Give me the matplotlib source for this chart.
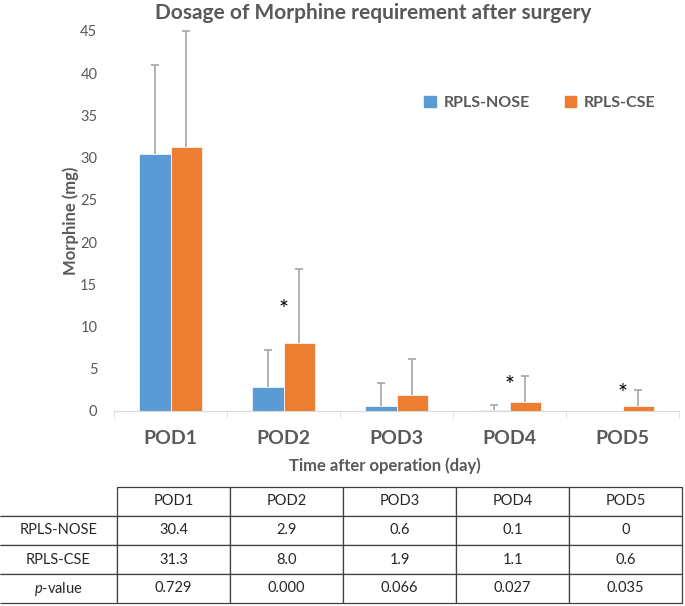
import matplotlib
matplotlib.use("Agg")
import matplotlib.pyplot as plt
from matplotlib.patches import Patch
import numpy as np

plt.rcParams['font.family'] = ['Lato', 'DejaVu Sans']
plt.rcParams['mathtext.fontset'] = 'custom'
plt.rcParams['mathtext.it'] = 'Lato:italic'
plt.rcParams['mathtext.rm'] = 'Lato'

# data
days = ['POD1', 'POD2', 'POD3', 'POD4', 'POD5']
nose_mean = [30.4, 2.9, 0.6, 0.1, 0]
cse_mean = [31.3, 8.0, 1.9, 1.1, 0.6]
nose_sd = [10.6, 4.3, 2.7, 0.6, 0]
cse_sd = [13.7, 8.8, 4.2, 3.1, 1.9]
p_values = ['0.729', '0.000', '0.066', '0.027', '0.035']
star_idx = [1, 3, 4]
star_y = [12.8, 3.9, 2.85]

blue = '#5B9BD5'
orange = '#ED7D31'
grey_txt = '#595959'

fig = plt.figure(figsize=(6.85, 6.06), dpi=100)
ax = fig.add_axes([114/685, 1-411/606, 565/685, 380/606])

x = np.arange(len(days))
w = 0.275


def upper_err(xpos, mean, sd):
    # only the upper whisker, skip zero sd
    xpos, mean, sd = np.asarray(xpos), np.asarray(mean), np.asarray(sd)
    keep = sd > 0
    _, caps, _ = ax.errorbar(xpos[keep], mean[keep], yerr=[np.zeros(keep.sum()), sd[keep]],
                             fmt='none', ecolor='#A6A6A6', elinewidth=1.2, capsize=3,
                             capthick=1.2, clip_on=False)
    caps[0].set_visible(False)


ax.bar(x - w/2, nose_mean, w, color=blue, edgecolor='white', linewidth=0.5)
ax.bar(x + w/2, cse_mean, w, color=orange, edgecolor='white', linewidth=0.5)
upper_err(x - w/2, nose_mean, nose_sd)
upper_err(x + w/2, cse_mean, cse_sd)

for i, yv in zip(star_idx, star_y):
    # glyph sits high in its box, nudge it down
    ax.annotate('*', (i, yv), xytext=(0, -5), textcoords='offset points',
                ha='center', va='center', fontsize=17, color='black')

ax.set_xlim(-0.5, 4.5)
ax.set_ylim(0, 45)
ax.set_yticks(range(0, 46, 5))
ax.set_xticks(x)
ax.set_xticklabels(days, fontsize=14, fontweight='bold', color=grey_txt)
ax.set_xticks(np.arange(-0.5, 5, 1), minor=True)
ax.tick_params(axis='x', which='major', length=0, pad=14)
ax.tick_params(axis='x', which='minor', length=5, color='#D9D9D9')
ax.tick_params(axis='y', length=0, labelsize=10.5, labelcolor=grey_txt, pad=12)
for s in ['top', 'right', 'left']:
    ax.spines[s].set_visible(False)
ax.spines['bottom'].set_color('#D9D9D9')

ax.set_ylabel('Morphine (mg)', fontsize=12, fontweight='bold', color=grey_txt, labelpad=1)
fig.text(385/685, 1-466/606, 'Time after operation (day)', ha='center', va='center',
         fontsize=12, fontweight='bold', color=grey_txt)
fig.text(373/685, 1-13/606, 'Dosage of Morphine requirement after surgery', ha='center',
         va='center', fontsize=15, fontweight='bold', color=grey_txt)

handles = [Patch(color=blue), Patch(color=orange)]
fig.legend(handles, ['RPLS-NOSE', 'RPLS-CSE'], loc='center', ncol=2, frameon=False,
           bbox_to_anchor=(540/685, 1-103/606), handlelength=0.7, handleheight=0.7,
           handletextpad=0.5, columnspacing=2.2,
           prop={'size': 11.5, 'weight': 'bold'}, labelcolor=grey_txt)

# table under the chart
tax = fig.add_axes([0, 1-603/606, 682/685, 116/606])
tax.axis('off')
cells = [[''] + days,
         ['RPLS-NOSE'] + [f'{v:g}' if v == 0 else f'{v:.1f}' for v in nose_mean],
         ['RPLS-CSE'] + [f'{v:.1f}' for v in cse_mean],
         ['$\\it{p}$-value'] + p_values]
colw = [117] + [113] * 5
colw = [c / sum(colw) for c in colw]
tbl = tax.table(cellText=cells, colWidths=colw, cellLoc='center', bbox=[0, 0, 1, 1])
tbl.auto_set_font_size(False)
for (r, c), cell in tbl.get_celld().items():
    cell.set_fontsize(10.5)
    cell.set_edgecolor('#404040')
    cell.set_linewidth(0.9)
    cell.get_text().set_color('#262626')
    if r == 0 and c == 0:
        cell.visible_edges = 'B'
    elif c == 0:
        cell.visible_edges = 'BTR'

fig.savefig('out.png', dpi=100)
